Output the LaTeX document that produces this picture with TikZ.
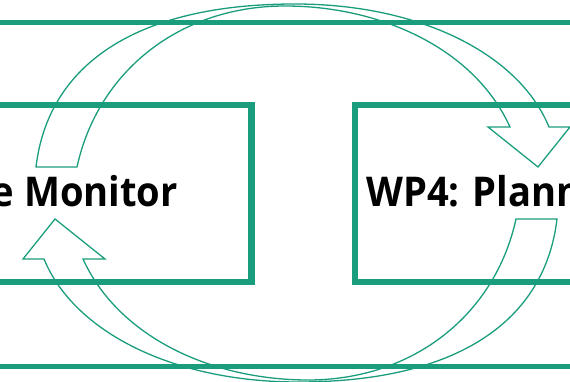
\documentclass[tikz,border=0pt]{standalone}
\usepackage{fontspec}
\setmainfont{Open Sans}[FakeStretch=0.93]
\definecolor{teal1}{RGB}{26,157,124}
\begin{document}
\begin{tikzpicture}[x=1pt,y=-1pt,
  frame/.style={draw=teal1,line width=5.5pt},
  box/.style={draw=teal1,line width=6.5pt,rectangle,inner sep=0pt},
  blockarrow/.style={draw=teal1,line width=1.3pt,line join=miter},
  lbl/.style={inner sep=0pt,font=\fontsize{41}{44}\selectfont\bfseries,text=black}]
\useasboundingbox (0,0) rectangle (570,382);
\clip (0,0) rectangle (570,382);
% outer frame
\draw[frame] (-20,22.5) rectangle (590,366.5);
% inner boxes
\node[box,minimum width=281pt,minimum height=177pt] (lbox) at (111.2,193.5) {};
\node[box,minimum width=245pt,minimum height=177pt] (rbox) at (477.5,193.5) {};
% labels
\node[lbl,anchor=base east] (ltext) at (178,207) {e Monitor};
\node[lbl,anchor=base west] (rtext) at (366,207) {WP4: Planning};
% top block arrow
\def\arrowpath{(36,167) .. controls (48,66) and (134,4) .. (295,4)
  .. controls (420,4) and (519,54) .. (549,127)
  -- (570,127) -- (538,167) -- (488,127) -- (510,127)
  .. controls (474,48) and (380,6) .. (285,6)
  .. controls (180,6) and (98,71) .. (77,167) -- cycle}
\draw[blockarrow] \arrowpath;
\draw[blockarrow,rotate around={180:(296.5,193)}] \arrowpath;
\end{tikzpicture}
\end{document}
